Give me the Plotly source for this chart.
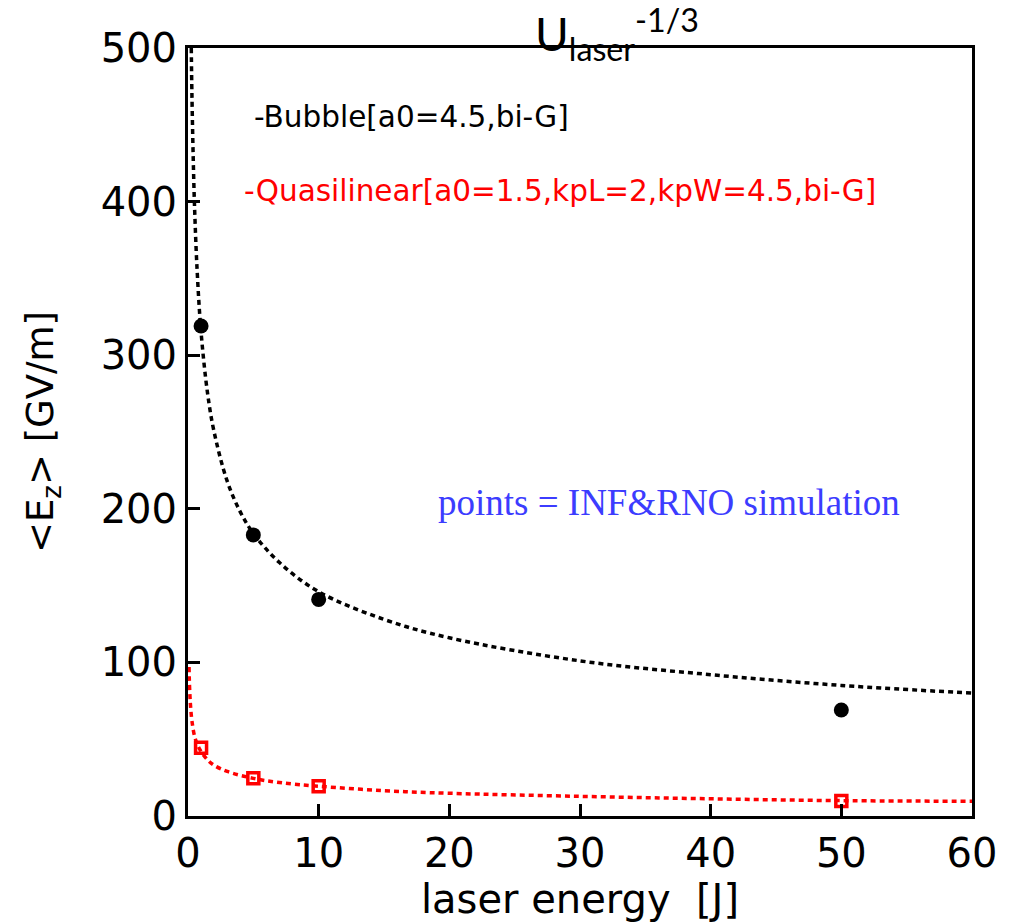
import plotly.graph_objects as go

# Simulation points: laser energy [J] vs average accelerating field [GV/m]
energy_pts = [1, 5, 10, 50]
bubble_pts = [319, 183, 141, 69]
quasi_pts = [44.5, 24.5, 19.4, 9.7]

# U^-1/3 scaling curves
bubble_curve_u = [0.25, 0.3, 0.4, 0.5, 0.7, 1, 1.5, 2, 3, 4, 5, 7, 10, 15, 20, 30, 40, 50, 60]
bubble_curve_e = [500, 470, 428, 397, 355, 315, 275, 250, 218, 198, 184, 165, 146, 128, 116, 101, 92, 85, 80]

quasi_curve_u = [0.08, 0.1, 0.15, 0.2, 0.3, 0.5, 0.7, 1, 1.5, 2, 3, 5, 7, 10, 15, 20, 30, 40, 50, 60]
quasi_curve_e = [97, 89, 78, 71, 62, 52, 47, 42, 36.5, 33, 29, 24.5, 21.8, 19.4, 16.5, 14.8, 12.8, 11.2, 10.0, 9.6]

x_ticks = [0, 10, 20, 30, 40, 50, 60]
y_ticks = [0, 100, 200, 300, 400, 500]

SANS = "DejaVu Sans"
RED = "#ff0000"
BLUE = "#3c3cff"

fig = go.Figure()

fig.add_trace(go.Scatter(
    x=bubble_curve_u, y=bubble_curve_e, mode="lines", line_shape="spline",
    line=dict(color="black", width=3.5, dash="5px,4px"), showlegend=False,
))
fig.add_trace(go.Scatter(
    x=quasi_curve_u, y=quasi_curve_e, mode="lines", line_shape="spline",
    line=dict(color=RED, width=3.5, dash="5px,4px"), showlegend=False,
))
fig.add_trace(go.Scatter(
    x=energy_pts, y=bubble_pts, mode="markers",
    marker=dict(symbol="circle", size=15, color="black"), showlegend=False,
))
fig.add_trace(go.Scatter(
    x=energy_pts, y=quasi_pts, mode="markers",
    marker=dict(symbol="square-open", size=11, color=RED, line=dict(color=RED, width=3.5)),
    showlegend=False,
))

fig.add_annotation(x=4.9, y=455, xref="x", yref="y", xanchor="left", yanchor="middle",
                   text="-Bubble[a0=4.5,bi-G]", showarrow=False,
                   font=dict(family=SANS, size=29.5, color="black"))
fig.add_annotation(x=4.1, y=407, xref="x", yref="y", xanchor="left", yanchor="middle",
                   text="-Quasilinear[a0=1.5,kpL=2,kpW=4.5,bi-G]", showarrow=False,
                   font=dict(family=SANS, size=29.5, color=RED))
fig.add_annotation(x=36.8, y=204, xref="x", yref="y", xanchor="center", yanchor="middle",
                   text="points = INF&amp;RNO simulation", showarrow=False,
                   font=dict(family="Liberation Serif", size=37, color=BLUE))
fig.add_annotation(x=0.4395, y=1, xref="paper", yref="paper", xanchor="left", yanchor="middle",
                   yshift=14, text="U<sub>laser</sub><sup>-1/3</sup>", showarrow=False,
                   font=dict(family="Lato", size=46, color="black"))

axis_common = dict(
    showline=True, linecolor="black", linewidth=3, mirror=True,
    ticks="inside", ticklen=12, tickwidth=2.5, tickcolor="black",
    showgrid=False, zeroline=False,
    tickfont=dict(family=SANS, size=40, color="black"),
)

fig.update_xaxes(
    range=[0, 60], tickvals=x_ticks, ticktext=[str(v) for v in x_ticks],
    title=dict(text="laser energy\u00a0 [J]", font=dict(family=SANS, size=40, color="black"), standoff=6),
    **axis_common,
)
fig.update_yaxes(
    range=[0, 500], tickvals=y_ticks, ticktext=[str(v) for v in y_ticks],
    title=dict(text="&lt;E<sub>z</sub>&gt; [GV/m]", font=dict(family=SANS, size=37, color="black"), standoff=36),
    **axis_common,
)

fig.update_layout(
    width=1009, height=922,
    margin=dict(l=188, r=36, t=48, b=99),
    plot_bgcolor="white", paper_bgcolor="white",
)

fig.write_html("out.html")
